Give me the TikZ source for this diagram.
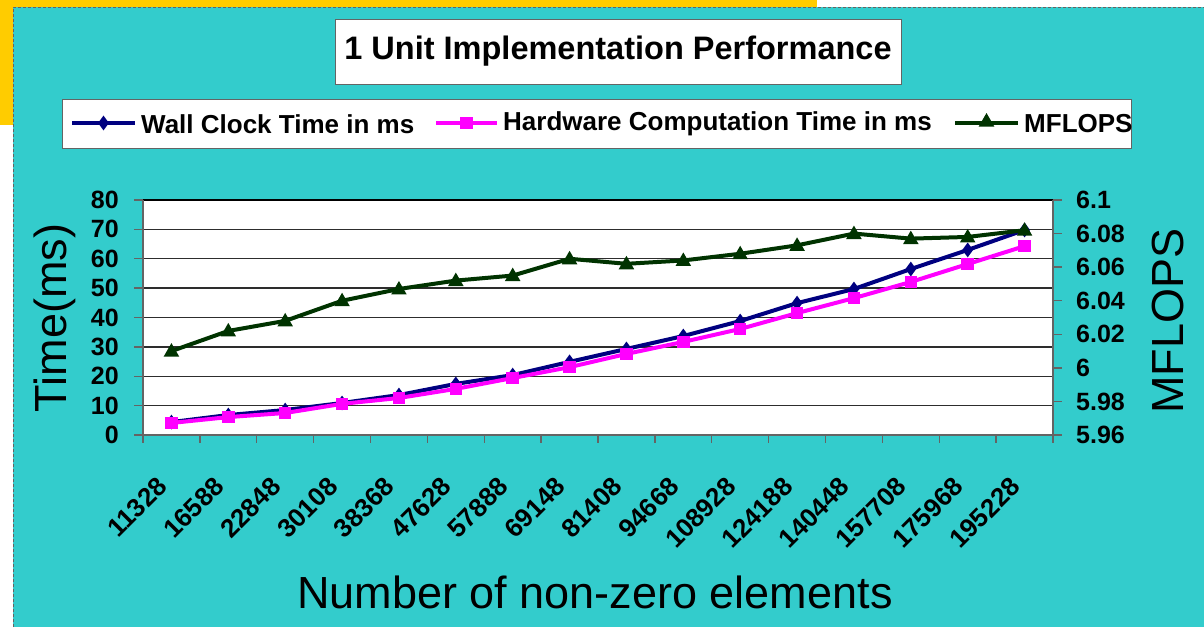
\documentclass[tikz,border=0pt]{standalone}
\usepackage{fontspec}
\setmainfont{Liberation Sans}
\usetikzlibrary{shapes.geometric}
\definecolor{chartteal}{RGB}{51,204,204}
\definecolor{slideyellow}{RGB}{255,204,0}
\definecolor{wallnavy}{RGB}{0,0,128}
\definecolor{hwmagenta}{RGB}{255,0,255}
\definecolor{flopgreen}{RGB}{0,51,0}
\definecolor{axisgray}{RGB}{100,100,100}
\definecolor{gridgray}{RGB}{45,45,45}

\begin{document}
\begin{tikzpicture}[x=1pt,y=-1pt,
  ticklabel/.style={font=\fontsize{25}{28}\selectfont\bfseries,inner sep=0pt},
  legendtext/.style={anchor=west,font=\fontsize{26}{30}\selectfont\bfseries,inner sep=0pt},
  axistitle/.style={font=\fontsize{45}{52}\selectfont,inner sep=0pt},
  wallline/.style={wallnavy,line width=4pt,line join=round},
  hwline/.style={hwmagenta,line width=4pt,line join=round},
  flopline/.style={flopgreen,line width=4pt,line join=round},
  wallmark/.style={diamond,fill=wallnavy,inner sep=0pt,minimum width=11pt,minimum height=15pt},
  hwmark/.style={rectangle,fill=hwmagenta,inner sep=0pt,minimum size=12.5pt},
  flopmark/.style={regular polygon,regular polygon sides=3,fill=flopgreen,inner sep=0pt,minimum size=18pt}]

  \useasboundingbox (0,0) rectangle (1204,627);

  % ── BACKGROUND ─────────────────────────────────────────────────────────────
  \fill[white] (0,0) rectangle (1204,627);
  \fill[slideyellow] (0,0) rectangle (817,7);
  \fill[slideyellow] (0,0) rectangle (13,125);
  \fill[chartteal] (13,7) rectangle (1204,627);
  \draw[axisgray,line width=1pt,dash pattern=on 3pt off 2pt] (13,627) -- (13,7) -- (1204,7);

  % ── TITLE ──────────────────────────────────────────────────────────────────
  \node[draw=axisgray,fill=white,line width=1pt,minimum width=566pt,minimum height=65pt,
        font=\fontsize{32.5}{38}\selectfont\bfseries] (title) at (618,51.5)
    {1 Unit Implementation Performance};

  % ── LEGEND ─────────────────────────────────────────────────────────────────
  \filldraw[fill=white,draw=axisgray,line width=1pt] (62,99) rectangle (1131,148);

  \draw[wallline] (72,123) -- (135,123);
  \node[wallmark] (legwall) at (103.5,123) {};
  \node[legendtext] (legwalltext) at (141,124) {Wall Clock Time in ms};

  \draw[hwline] (436,123) -- (497,123);
  \node[hwmark] (leghw) at (466.5,123) {};
  \node[legendtext] (leghwtext) at (503,124) {Hardware Computation Time in ms};

  \draw[flopline] (955,123) -- (1018,123);
  \node[flopmark] (legflop) at (986.5,122) {};
  \node[legendtext] (legfloptext) at (1024,124) {MFLOPS};

  % ── PLOT AREA ──────────────────────────────────────────────────────────────
  \fill[white] (143,200) rectangle (1053,435);
  \foreach \v in {10,20,...,70}
    \draw[gridgray,line width=1.3pt] (143,{435-\v*2.9375}) -- (1053,{435-\v*2.9375});
  \draw[black,line width=1.3pt] (143,200) -- (1053,200);
  \draw[axisgray,line width=1.3pt] (143,200) -- (143,435) -- (1053,435);
  \draw[axisgray,line width=1.3pt] (1053,200) -- (1053,443);

  % left axis
  \foreach \v in {0,10,...,80}{
    \draw[axisgray,line width=1.3pt] (134,{435-\v*2.9375}) -- (143,{435-\v*2.9375});
    \node[ticklabel,anchor=east] (ly\v) at (119,{435-\v*2.9375}) {\v};
  }

  % right axis
  \foreach \k/\lab in {0/5.96,1/5.98,2/6,3/6.02,4/6.04,5/6.06,6/6.08,7/6.1}{
    \draw[axisgray,line width=1.3pt] (1053,{435-\k*235/7}) -- (1062,{435-\k*235/7});
    \node[ticklabel,anchor=west] (ry\k) at (1076,{435-\k*235/7}) {\lab};
  }

  % category ticks
  \foreach \k in {0,...,16}
    \draw[axisgray,line width=1.3pt] ({143+\k*56.875},435) -- ({143+\k*56.875},443);

  % ── DATA ───────────────────────────────────────────────────────────────────
  \foreach \i/\n/\w/\h/\m in {1/11328/4.4/4.1/6.010, 2/16588/6.8/6.1/6.022,
      3/22848/8.5/7.5/6.028, 4/30108/10.9/10.6/6.040, 5/38368/13.6/12.6/6.047,
      6/47628/17.4/15.7/6.052, 7/57888/20.4/19.4/6.055, 8/69148/24.9/23.1/6.065,
      9/81408/29.3/27.6/6.062, 10/94668/33.7/31.7/6.064, 11/108928/38.8/36.1/6.068,
      12/124188/44.9/41.5/6.073, 13/140448/49.7/46.6/6.080, 14/157708/56.5/52.1/6.077,
      15/175968/63.0/58.2/6.078, 16/195228/69.8/64.3/6.082}{
    \pgfmathsetmacro{\cx}{143+(\i-0.5)*56.875}
    \coordinate (w\i) at (\cx,{435-\w*2.9375});
    \coordinate (h\i) at (\cx,{435-\h*2.9375});
    \coordinate (f\i) at (\cx,{435-(\m-5.96)/0.14*235});
    \node[ticklabel,font=\fontsize{26}{28}\selectfont\bfseries,anchor=east,rotate=45]
      (x\i) at (\cx-9,482) {\n};
  }

  \draw[wallline] (w1) \foreach \i in {2,...,16}{ -- (w\i)};
  \foreach \i in {1,...,16} \node[wallmark] (wm\i) at (w\i) {};

  \draw[hwline] (h1) \foreach \i in {2,...,16}{ -- (h\i)};
  \foreach \i in {1,...,16} \node[hwmark] (hm\i) at (h\i) {};

  \draw[flopline] (f1) \foreach \i in {2,...,16}{ -- (f\i)};
  \foreach \i in {1,...,16} \node[flopmark] (fm\i) at ([yshift=-1pt]f\i) {};

  % ── AXIS TITLES ────────────────────────────────────────────────────────────
  \node[axistitle,rotate=90] (ytitle) at (55,318) {Time(ms)};
  \node[axistitle,rotate=90] (y2title) at (1168,321) {MFLOPS};
  \node[axistitle] (xtitle) at (595,592) {Number of non-zero elements};

\end{tikzpicture}
\end{document}
